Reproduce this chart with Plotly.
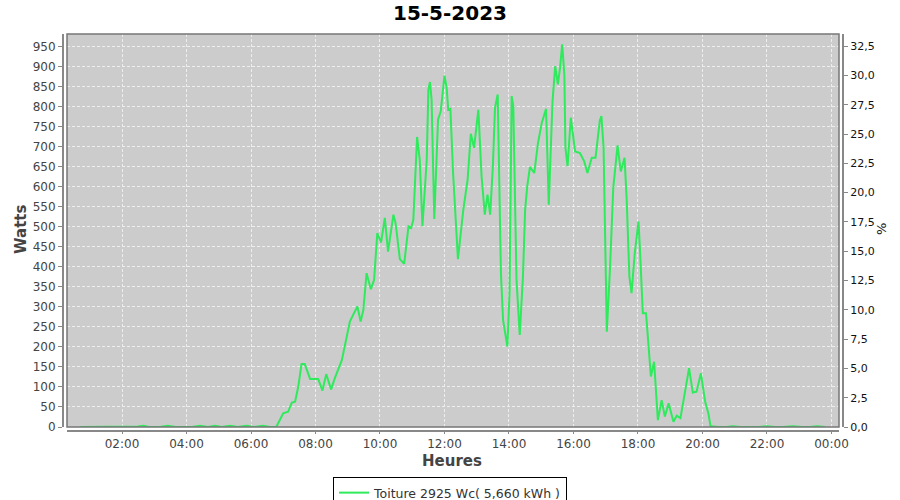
import plotly.graph_objects as go

DATE = "2023-05-15"
TITLE = "15-5-2023"
SERIES_NAME = "Toiture 2925 Wc( 5,660 kWh )"
PEAK_WC = 2925

times = [
    "00:42", "01:00", "01:15", "01:30", "01:45", "02:00", "02:15", "02:30", "02:40", "02:50",
    "03:10", "03:25", "03:40", "04:00", "04:10", "04:25", "04:40", "04:53", "05:05", "05:21",
    "05:35", "05:52", "06:05", "06:22", "06:35", "06:47",
    "07:00", "07:09", "07:16", "07:22", "07:28", "07:34", "07:40", "07:50", "08:05", "08:13",
    "08:20", "08:29", "08:36", "08:49", "08:55", "09:04", "09:10", "09:18", "09:24", "09:29",
    "09:35", "09:43", "09:49", "09:55", "10:02", "10:09", "10:15", "10:25", "10:29", "10:37",
    "10:45", "10:53", "10:58", "11:02", "11:09", "11:14", "11:19", "11:27", "11:30", "11:33",
    "11:36", "11:41", "11:48", "11:53", "12:00", "12:04", "12:07", "12:11", "12:16", "12:25",
    "12:35", "12:43", "12:49", "12:55", "13:03", "13:09", "13:15", "13:20", "13:25", "13:30",
    "13:34", "13:39", "13:45", "13:49", "13:57", "14:01", "14:05", "14:08", "14:14", "14:20",
    "14:26", "14:30", "14:34", "14:39", "14:47", "14:54", "15:01", "15:09", "15:14", "15:21",
    "15:26", "15:31", "15:35", "15:39", "15:43", "15:45", "15:49", "15:55", "16:03", "16:12",
    "16:20", "16:26", "16:34", "16:41", "16:49", "16:52", "16:56", "16:59", "17:02", "17:08",
    "17:14", "17:22", "17:28", "17:35", "17:39", "17:44", "17:48", "17:54", "18:01", "18:04",
    "18:09", "18:15", "18:19", "18:24", "18:30", "18:37", "18:44", "18:50", "18:57", "19:06",
    "19:12", "19:19", "19:27", "19:35", "19:42", "19:49", "19:57", "20:05", "20:11", "20:15",
    "20:30", "20:45", "20:56", "21:10", "21:30", "21:45", "22:00", "22:15", "22:30", "22:48",
    "23:05", "23:20", "23:33", "23:48",
]

watts = [
    0, 0, 0, 0, 0, 0, 0, 1, 3, 0,
    0, 3, 0, 0, 0, 3, 0, 3, 0, 3,
    0, 3, 0, 3, 0, 0,
    34, 38, 61, 63, 101, 157, 157, 120, 120, 91,
    132, 94, 122, 167, 209, 263, 280, 301, 263, 292,
    384, 344, 367, 484, 461, 522, 438, 530, 509, 419,
    407, 501, 497, 517, 724, 667, 501, 667, 842, 861,
    817, 519, 767, 788, 877, 847, 792, 794, 634, 419,
    542, 617, 732, 697, 792, 626, 530, 580, 530, 651,
    797, 830, 384, 267, 201, 334, 826, 801, 367, 230,
    376, 542, 601, 649, 634, 709, 759, 794, 555, 813,
    901, 855, 897, 955, 880, 697, 651, 772, 688, 684,
    663, 634, 672, 672, 765, 776, 697, 480, 238, 397,
    597, 703, 638, 672, 567, 376, 334, 434, 513, 434,
    284, 284, 209, 126, 163, 17, 67, 26, 59, 13,
    28, 22, 84, 147, 86, 88, 134, 63, 34, 2,
    0, 0, 2, 0, 0, 0, 2, 0, 0, 2,
    0, 0, 2, 0,
]

x_ticks = ["02:00", "04:00", "06:00", "08:00", "10:00", "12:00", "14:00", "16:00",
           "18:00", "20:00", "22:00", "00:00"]
x_tick_dates = [DATE] * 11 + ["2023-05-16"]
w_ticks = list(range(0, 951, 50))
pct_ticks = [0, 2.5, 5, 7.5, 10, 12.5, 15, 17.5, 20, 22.5, 25, 27.5, 30, 32.5]

x_vals = [f"{DATE} {t}" for t in times]
W_MAX = 981

FONT = "DejaVu Sans"
GRID = "#eeeeee"
AXIS = "#888888"

fig = go.Figure()
fig.add_trace(go.Scatter(
    x=x_vals, y=watts, mode="lines", name=SERIES_NAME,
    line=dict(color="#2eea5c", width=2), yaxis="y",
))
# invisible trace to activate the % axis
fig.add_trace(go.Scatter(x=[x_vals[0]], y=[0], yaxis="y2", mode="lines",
                         showlegend=False, hoverinfo="skip", line=dict(width=0)))

L, R, T, B = 63, 57, 34, 69
W, H = 900, 500
pw, ph = W - L - R, H - T - B
xd = [4 / pw, 1 - 4 / pw]
yd = [4 / ph, 1]

fig.update_layout(
    width=W, height=H,
    margin=dict(l=L, r=R, t=T, b=B, autoexpand=False),
    paper_bgcolor="white", plot_bgcolor="#cccccc",
    font=dict(family=FONT, size=11, color="#444444"),
    title=dict(text=f"<b>{TITLE}</b>", x=0.5, xanchor="center", y=1 - 13 / H,
               yanchor="middle", yref="container", font=dict(size=20, color="#000000")),
    showlegend=True,
    legend=dict(orientation="h", x=(450 - L) / pw, xanchor="center", y=-(477 - (H - B)) / ph,
                yanchor="top", bgcolor="white", bordercolor="#000000", borderwidth=1,
                font=dict(size=12.5, color="#333333"), itemwidth=30,
                tracegroupgap=0, itemclick=False),
    xaxis=dict(
        type="date", domain=xd, anchor="free", position=0, automargin=False,
        range=[f"{DATE} 00:17:40", "2023-05-16 00:14:00"],
        tickvals=[f"{d} {t}" for d, t in zip(x_tick_dates, x_ticks)], ticktext=x_ticks,
        showline=True, linecolor=AXIS, linewidth=2,
        ticks="outside", ticklen=2, tickcolor=AXIS,
        showgrid=True, gridcolor=GRID, griddash="3px,2px", gridwidth=1,
        zeroline=False, tickfont=dict(size=12, color="#444444"),
    ),
    yaxis=dict(
        domain=yd, anchor="free", position=0, range=[0, W_MAX], automargin=False,
        tickvals=w_ticks, showline=True, linecolor=AXIS, linewidth=2,
        ticks="outside", ticklen=4, tickcolor=AXIS,
        showgrid=True, gridcolor=GRID, griddash="3px,2px", gridwidth=1,
        zeroline=False, tickfont=dict(size=12, color="#444444"),
    ),
    yaxis2=dict(
        overlaying="y", side="right", anchor="free", position=1, automargin=False,
        range=[0, W_MAX / PEAK_WC * 100],
        tickvals=pct_ticks, ticktext=[f"{v:.1f}".replace(".", ",") for v in pct_ticks],
        showline=True, linecolor=AXIS, linewidth=2,
        ticks="outside", ticklen=4, tickcolor=AXIS,
        showgrid=False, zeroline=False, tickfont=dict(size=11, color="#111111"),
    ),
    shapes=[dict(type="rect", xref="paper", yref="paper", x0=xd[0], x1=xd[1], y0=yd[0], y1=yd[1],
                 line=dict(color="#777777", width=1.5), layer="above")],
    annotations=[
        dict(text="<b>Watts</b>", xref="paper", yref="paper", x=(21 - L) / pw,
             y=(H - B - 230) / ph, textangle=-90, showarrow=False,
             font=dict(size=15, color="#444444"), xanchor="center", yanchor="middle"),
        dict(text="%", xref="paper", yref="paper", x=(882 - L) / pw,
             y=(H - B - 229) / ph, textangle=-90, showarrow=False,
             font=dict(size=13, color="#111111"), xanchor="center", yanchor="middle"),
        dict(text="<b>Heures</b>", xref="paper", yref="paper", x=(452 - L) / pw,
             y=-(461 - (H - B)) / ph, showarrow=False,
             font=dict(size=15, color="#444444"), xanchor="center", yanchor="middle"),
    ],
)

fig.write_html("out.html", config={"displayModeBar": False},
               post_script="document.body.style.margin='0';document.body.style.overflow='hidden';")
